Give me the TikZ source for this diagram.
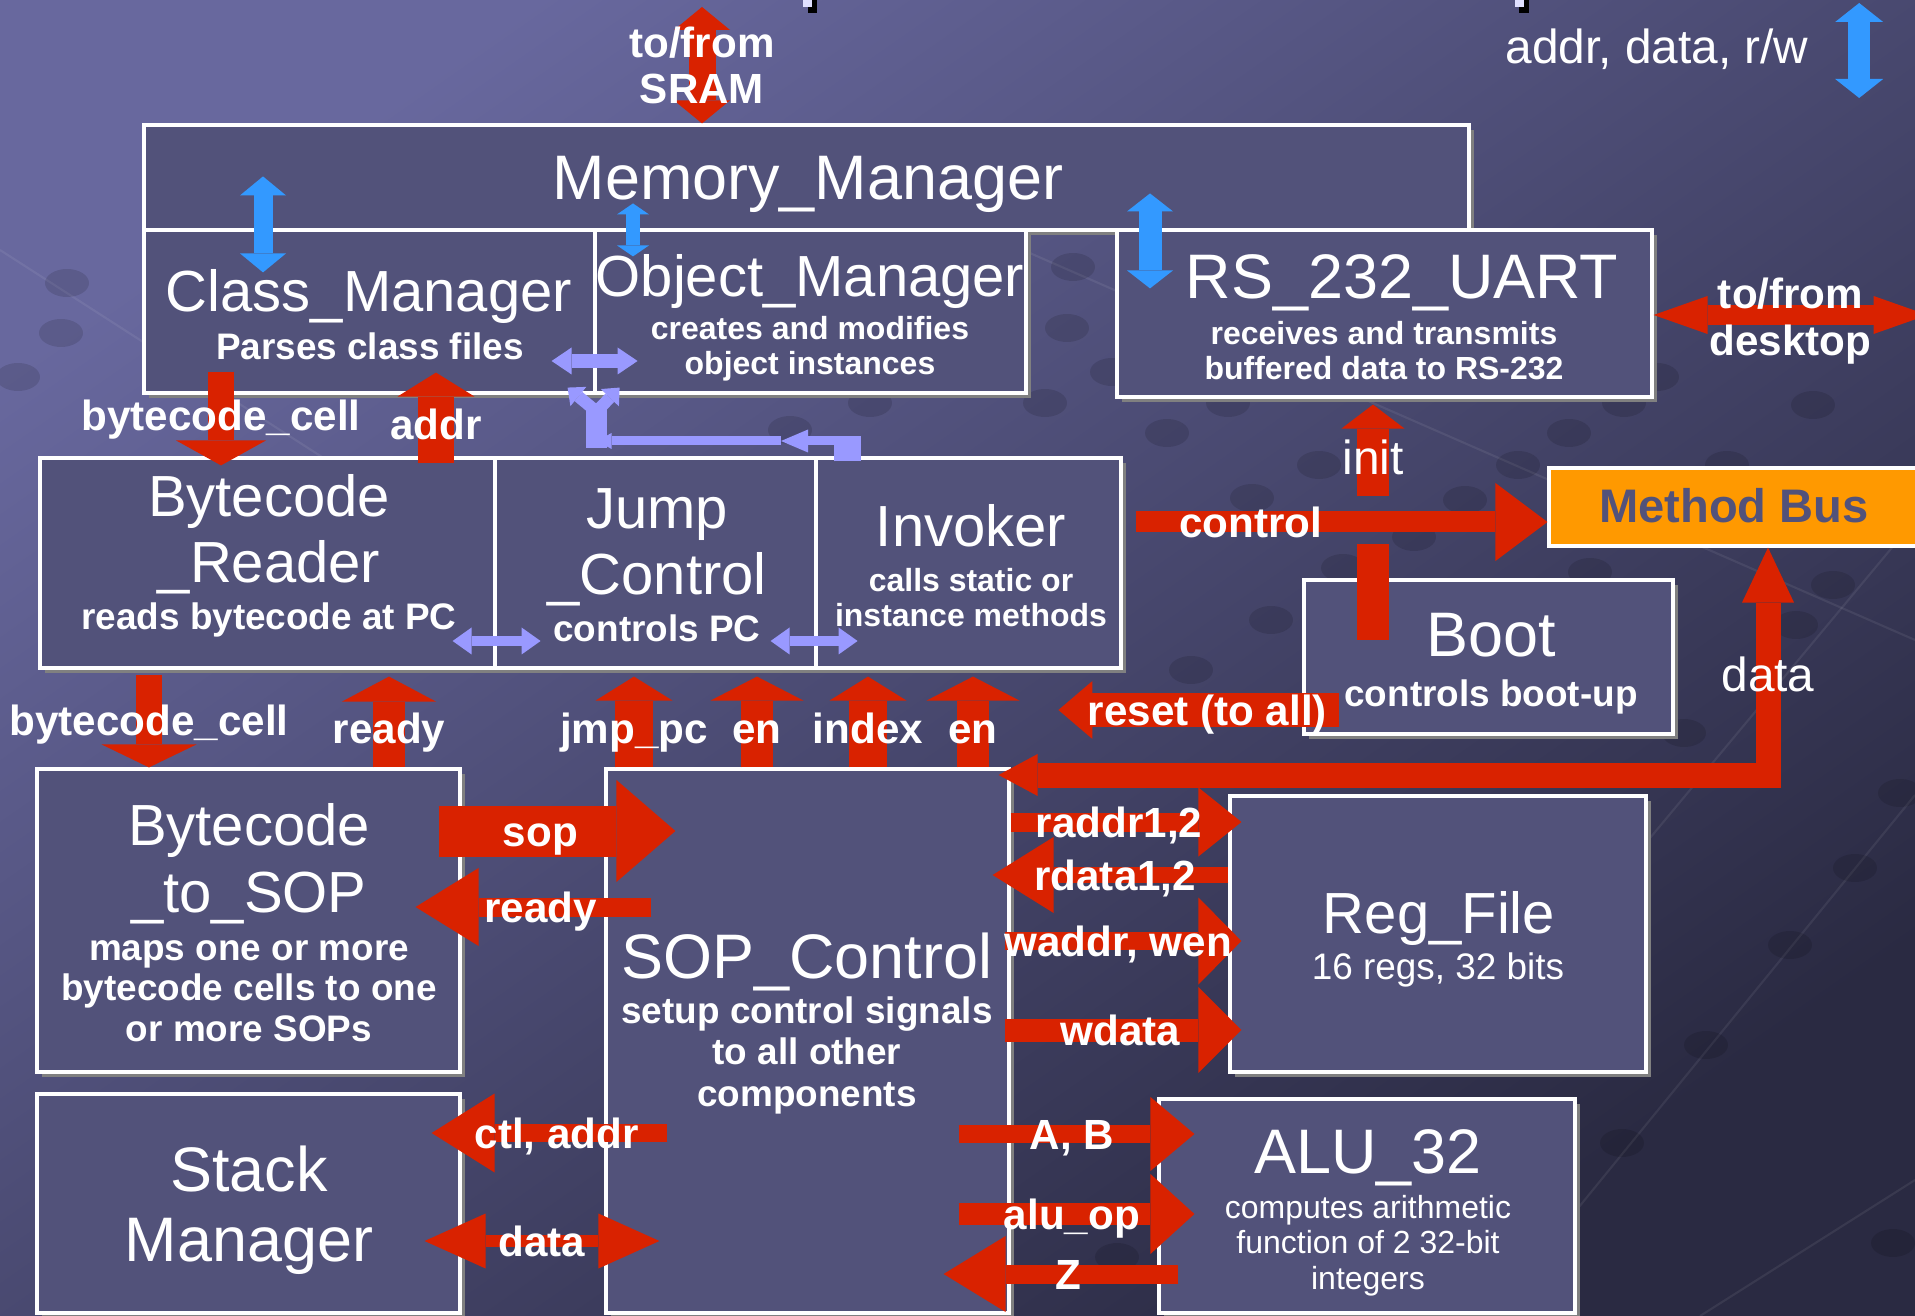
\documentclass[tikz,border=0pt]{standalone}
\usepackage{fontspec}
\setmainfont{Liberation Sans}
\usetikzlibrary{arrows.meta,shadows}

\definecolor{bgtop}{RGB}{104,104,158}
\definecolor{bgbot}{RGB}{42,42,66}
\definecolor{boxfill}{RGB}{82,82,122}
\definecolor{shadowgray}{RGB}{128,128,128}
\definecolor{sigred}{RGB}{217,34,0}
\definecolor{busblue}{RGB}{51,153,255}
\definecolor{linkpurple}{RGB}{153,153,255}
\definecolor{busorange}{RGB}{255,153,0}

\pgfdeclarelayer{back}
\pgfdeclarelayer{wires}
\pgfsetlayers{back,wires,main}

\tikzset{
	blk/.style={draw=white, line width=0.9pt, fill=boxfill, inner sep=0pt,
		drop shadow={shadow xshift=0.5mm, shadow yshift=-0.5mm, fill=shadowgray, opacity=1}},
	ttl/.style={text=white, inner sep=0pt, anchor=base, align=center,
		font={\fontsize{17.9}{19.9}\selectfont\lineskiplimit=-1cm}},
	ttlm/.style={ttl, font={\fontsize{#1}{18.8}\selectfont\lineskiplimit=-1cm}},
	ttlm/.default=16.5,
	dsc/.style={text=white, inner sep=0pt, anchor=base, align=center,
		font={\bfseries\fontsize{10.5}{#1}\selectfont\lineskiplimit=-1cm}},
	dsc/.default=10.1,
	dscs/.style={dsc, font={\bfseries\fontsize{9.1}{10.1}\selectfont\lineskiplimit=-1cm}},
	note/.style={text=white, inner sep=0pt, anchor=base, align=center,
		font={\fontsize{#1}{10.1}\selectfont\lineskiplimit=-1cm}},
	lbl/.style={text=white, inner sep=0pt, text height=8.6pt, text depth=0pt,
		font=\bfseries\fontsize{12}{14}\selectfont},
	lblr/.style={lbl, text height=9.7pt, font=\fontsize{13.6}{16}\selectfont},
	sig/.style n args={3}{draw=sigred, line width=#1,
		-{Triangle[width=#2, length=#3, line width=0pt]}},
	sigboth/.style n args={3}{draw=sigred, line width=#1,
		{Triangle[width=#2, length=#3, line width=0pt]}-{Triangle[width=#2, length=#3, line width=0pt]}},
	bus/.style n args={3}{draw=busblue, line width=#1,
		{Triangle[width=#2, length=#3, line width=0pt]}-{Triangle[width=#2, length=#3, line width=0pt]}},
	lnk/.style n args={3}{draw=linkpurple, line width=#1,
		{Triangle[width=#2, length=#3, line width=0pt]}-{Triangle[width=#2, length=#3, line width=0pt]}},
	lnkto/.style n args={3}{draw=linkpurple, line width=#1,
		-{Triangle[width=#2, length=#3, line width=0pt]}},
	ball/.style={fill=black, opacity=0.12},
	mesh/.style={draw=white, opacity=0.07, line width=0.6pt}
}

\begin{document}
\begin{tikzpicture}[x=0.1mm, y=-0.1mm]
\useasboundingbox (0,0) rectangle (1915,1316);

\begin{pgfonlayer}{back}
\shade[top color=bgtop, bottom color=bgbot, shading angle=35] (0,0) rectangle (1915,1316);
\draw[mesh] (1915,795) -- (1490,1316);
\draw[mesh] (1915,520) -- (1640,850);
\draw[mesh] (1915,1180) -- (1700,1316);
\draw[mesh] (1000,240) -- (1915,640);
\draw[mesh] (0,250) -- (420,520);
\foreach \x/\y in {1855/868, 1790/945, 1706/1045, 1622/1143, 1893/1243, 1117/1257,
	1833/585, 1796/625, 1465/500, 1518/465, 1414/537, 1343/568, 1590/572, 1727/465,
	1684/733, 1900/793, 1073/267, 1067/328, 1112/372, 1045/403, 1228/403, 1657/377,
	1624/403, 1813/405, 1569/433, 1167/433, 67/283, 61/333, 18/377, 790/430, 870/403,
	1252/498, 1319/465, 1191/670, 1271/620}
	\fill[ball] (\x,\y) ellipse (22 and 14);

% blocks
\node[blk, minimum width=132.5mm, minimum height=10.5mm] (memmgr) at (806.5,177.5) {};
\node[blk, minimum width=45.1mm, minimum height=16.3mm] (classmgr) at (369.5,311.5) {};
\node[blk, minimum width=43.1mm, minimum height=16.3mm] (objmgr) at (810.5,311.5) {};
\node[blk, minimum width=53.5mm, minimum height=16.7mm] (uart) at (1384.5,313.5) {};
\node[blk, minimum width=45.5mm, minimum height=21mm] (bcreader) at (267.5,563) {};
\node[blk, minimum width=32.1mm, minimum height=21mm] (jumpctl) at (655.5,563) {};
\node[blk, minimum width=30.5mm, minimum height=21mm] (invoker) at (968.5,563) {};
\node[draw=white, line width=0.9pt, fill=busorange, minimum width=38.1mm, minimum height=7.8mm] (methodbus) at (1739.5,507) {};
\node[blk, minimum width=36.9mm, minimum height=15.4mm] (boot) at (1488.5,657) {};
\node[blk, minimum width=42.3mm, minimum height=30.3mm] (bctosop) at (248.5,920.5) {};
\node[blk, minimum width=42.3mm, minimum height=21.9mm] (stackmgr) at (248.5,1203.5) {};
\node[blk, minimum width=40.3mm, minimum height=54.4mm] (sopctl) at (807.5,1041) {};
\node[blk, minimum width=41.6mm, minimum height=27.6mm] (regfile) at (1438,934) {};
\node[blk, minimum width=41.6mm, minimum height=21.4mm] (alu) at (1367,1206) {};
\end{pgfonlayer}

\begin{pgfonlayer}{wires}
% memory and uart side
\coordinate (sram) at (702,7);
\draw[sigboth={2.7mm}{5.6mm}{2.3mm}] (sram) -- (sram |- memmgr.north)
	node[lbl, pos=.305] (lsram1) {to/from}
	node[lbl, pos=.695] (lsram2) {SRAM};
\draw[bus={1.9mm}{4.6mm}{1.9mm}] ([yshift=5.2mm]classmgr.north -| 263,0) -- ([yshift=-4.4mm]classmgr.north -| 263,0);
\draw[bus={1.4mm}{3.2mm}{1.1mm}] ([yshift=2.5mm]objmgr.north -| 633,0) -- ([yshift=-2.8mm]objmgr.north -| 633,0);
\draw[bus={2.3mm}{4.6mm}{1.8mm}] ([yshift=3.5mm]uart.north -| 1150,0) -- ([yshift=-6mm]uart.north -| 1150,0);
\draw[sigboth={2mm}{3.8mm}{5.4mm}] (uart.east |- 0,315) -- ++(274,0)
	node[lbl, pos=.5, yshift=2.2mm] (ldesk1) {to/from}
	node[lbl, pos=.5, yshift=-2.5mm] (ldesk2) {desktop};

% lavender links
\draw[lnk={1.4mm}{2.7mm}{2mm}] ([xshift=-4.5mm]classmgr.east |- 0,361) -- ([xshift=4.1mm]classmgr.east |- 0,361);
\draw[lnk={1mm}{2.7mm}{1.9mm}] ([xshift=-4.4mm]bcreader.east |- 0,641) -- ([xshift=4.4mm]bcreader.east |- 0,641);
\draw[lnk={1mm}{2.7mm}{1.9mm}] ([xshift=-4.7mm]jumpctl.east |- 0,641) -- ([xshift=4mm]jumpctl.east |- 0,641);
\coordinate (fork) at ([yshift=-1.7mm]classmgr.south east);
\draw[linkpurple, line width=2.7mm] ([yshift=-0.5mm]invoker.north -| 847,0) -- (847,437);
\draw[lnkto={0.9mm}{2.3mm}{2.7mm}] (861,441) -- (781,441);
\draw[lnkto={0.9mm}{1.6mm}{1.5mm}] (781,441) -- (fork |- 0,441);
\draw[linkpurple, line width=2.1mm] (fork |- 0,448) -- ([yshift=0.9mm]fork);
\draw[lnkto={1.2mm}{2.5mm}{1.4mm}] (fork) -- ([xshift=-2.9mm,yshift=0.7mm]classmgr.south east);
\draw[lnkto={1.2mm}{2.5mm}{1.4mm}] (fork) -- ([xshift=2.3mm,yshift=0.7mm]classmgr.south east);

% fetch path
\draw[sig={2.6mm}{9mm}{2.5mm}] ([yshift=2.3mm]classmgr.south -| 221,0) -- ([yshift=-0.9mm]bcreader.north -| 221,0)
	node[lbl, pos=.47] (lbc1) {bytecode\_cell};
\draw[sig={3.6mm}{7.7mm}{2.4mm}] ([yshift=-0.7mm]bcreader.north -| 436,0) -- ([yshift=2.2mm]classmgr.south -| 436,0)
	node[lbl, pos=.43] (laddr) {addr};
\draw[sig={2.6mm}{9.5mm}{2.3mm}] ([yshift=-0.5mm]bcreader.south -| 149,0) -- (bctosop.north -| 149,0)
	node[lbl, pos=.49] (lbc2) {bytecode\_cell};
\draw[sig={3.2mm}{9.4mm}{2.5mm}] (bctosop.north -| 389,0) -- ([yshift=-0.7mm]bcreader.south -| 389,0)
	node[lbl, pos=.43] (lrdy1) {ready};

% sop_control upwards
\draw[sig={3.8mm}{7.7mm}{2.4mm}] (sopctl.north -| 634,0) -- ([yshift=-0.7mm]jumpctl.south -| 634,0)
	node[lbl, pos=.43] (ljmp) {jmp\_pc};
\draw[sig={3.2mm}{9.3mm}{2.4mm}] (sopctl.north -| 757,0) -- ([yshift=-0.7mm]jumpctl.south -| 757,0)
	node[lbl, pos=.43] (len1) {en};
\draw[sig={3.8mm}{7.7mm}{2.4mm}] (sopctl.north -| 868,0) -- ([yshift=-0.7mm]invoker.south -| 868,0)
	node[lbl, pos=.43] (lidx) {index};
\draw[sig={3.2mm}{9.3mm}{2.4mm}] (sopctl.north -| 973,0) -- ([yshift=-0.7mm]invoker.south -| 973,0)
	node[lbl, pos=.43] (len2) {en};

% method bus
\draw[sig={2.1mm}{7.8mm}{5.2mm}] ([xshift=1.3mm]invoker.east |- 0,522) -- (methodbus.west |- 0,522)
	node[lbl, pos=.28] (lcontrol) {control};
\draw[sigred, line width=3.2mm] ([yshift=3.4mm]boot.north -| 1373,0) -- ([yshift=-6.2mm]boot.north -| 1373,0);
\draw[sig={3.2mm}{6.3mm}{2.4mm}] ([yshift=8.2mm]boot.north -| 1373,0) -- ([yshift=-0.6mm]uart.south -| 1373,0)
	node[lblr, pos=.42] (linit) {init};
\draw[sig={3.4mm}{5.8mm}{3.4mm}] ([xshift=3.7mm]boot.west |- 0,710) -- ++(-281,0)
	node[lbl, pos=.47] (lrst) {reset (to all)};
\draw[draw=sigred, line width=2.5mm,
	{Triangle[width=4.2mm, length=3.9mm, line width=0pt]}-{Triangle[width=5.2mm, length=5.5mm, line width=0pt]}]
	([xshift=-1.2mm]sopctl.east |- 0,775) -| (methodbus.south -| 1768,0)
	node[lblr, pos=.72] (ldata1) {data};

% register file and alu
\draw[sig={1.9mm}{6.9mm}{4.3mm}] (sopctl.east |- 0,822) -- ([xshift=1.3mm]regfile.west |- 0,822)
	node[lbl, pos=.47] (lraddr) {raddr1,2};
\draw[sig={1.6mm}{7.6mm}{6.1mm}] (regfile.west |- 0,875) -- ([xshift=-1.8mm]sopctl.east |- 0,875)
	node[lbl, pos=.48] (lrdata) {rdata1,2};
\draw[sig={1.8mm}{8.7mm}{4.3mm}] ([xshift=-0.6mm]sopctl.east |- 0,941) -- ([xshift=1.3mm]regfile.west |- 0,941)
	node[lbl, pos=.48] (lwaddr) {waddr, wen};
\draw[sig={2.3mm}{8.6mm}{4.3mm}] ([xshift=-0.6mm]sopctl.east |- 0,1030) -- ([xshift=1.3mm]regfile.west |- 0,1030)
	node[lbl, pos=.49] (lwdata) {wdata};
\draw[sig={1.8mm}{7.4mm}{4.4mm}] ([xshift=-5.2mm]sopctl.east |- 0,1134) -- ([xshift=3.7mm]alu.west |- 0,1134)
	node[lbl, pos=.48] (lab) {A, B};
\draw[sig={2.2mm}{8mm}{4.4mm}] ([xshift=-5.2mm]sopctl.east |- 0,1214) -- ([xshift=3.7mm]alu.west |- 0,1214)
	node[lbl, pos=.48] (laluop) {alu\_op};
\draw[sig={1.9mm}{7.6mm}{6.2mm}] ([xshift=2.1mm]alu.west |- 0,1274) -- ([xshift=-6.7mm]sopctl.east |- 0,1274)
	node[lbl, pos=.47] (lz) {Z};

% bytecode_to_sop and stack
\draw[sig={5.1mm}{10.2mm}{5.9mm}] ([xshift=-2.3mm]bctosop.east |- 0,831) -- ([xshift=7.1mm]sopctl.west |- 0,831)
	node[lbl, pos=.43] (lsop) {sop};
\draw[sig={1.9mm}{7.8mm}{6.3mm}] ([xshift=4.7mm]sopctl.west |- 0,907) -- ([xshift=-4.6mm]bctosop.east |- 0,907)
	node[lbl, pos=.47] (lrdy2) {ready};
\draw[sig={1.8mm}{7.9mm}{6.3mm}] ([xshift=6.3mm]sopctl.west |- 0,1133) -- ([xshift=-3mm]stackmgr.east |- 0,1133)
	node[lbl, pos=.47] (lctladdr) {ctl, addr};
\draw[sigboth={1.2mm}{5.5mm}{6.1mm}] ([xshift=-3.7mm]stackmgr.east |- 0,1241) -- ([xshift=5.5mm]sopctl.west |- 0,1241)
	node[lbl, pos=.5] (ldata2) {data};
\end{pgfonlayer}

% legend
\node[lblr] (legend) at (1657,46) {addr, data, r/w};
\draw[bus={2.2mm}{4.8mm}{1.9mm}] ([xshift=5mm,yshift=4.3mm]legend.east) -- ([xshift=5mm,yshift=-5.2mm]legend.east);

% block texts (multi-line ones sit on their last baseline)
\node[ttl] (tmem) at (808,200) {Memory\_Manager};
\node[ttlm] (tclass) at (369,312) {Class\_Manager};
\node[dsc] (dclass) at (370,360) {Parses class files};
\node[ttlm] (tobj) at (810,297) {Object\_Manager};
\node[dscs] (dobj) at (810,375) {creates and modifies\\object instances};
\node[ttl] (tuart) at (1402,299) {RS\_232\_UART};
\node[dscs] (duart) at (1384,380) {receives and transmits\\buffered data to RS-232};
\node[ttlm] (tbcr) at (269,583) {Bytecode\\\_Reader};
\node[dsc] (dbcr) at (269,630) {reads bytecode at PC};
\node[ttlm] (tjmp) at (657,595) {Jump\\\_Control};
\node[dsc] (djmp) at (657,642) {controls PC};
\node[ttlm] (tinv) at (971,547) {Invoker};
\node[dscs] (dinv) at (971,627) {calls static or\\instance methods};
\node[anchor=base, inner sep=0pt, text=boxfill, font=\bfseries\fontsize{13.4}{15}\selectfont] (tbus) at (1734,523) {Method Bus};
\node[ttl] (tboot) at (1491,657) {Boot};
\node[dsc] (dboot) at (1491,706) {controls boot-up};
\node[ttlm] (tb2s) at (249,912) {Bytecode\\\_to\_SOP};
\node[dsc=11.5] (db2s) at (249,1041) {maps one or more\\bytecode cells to one\\or more SOPs};
\node[ttl] (tstk) at (249,1261) {Stack\\Manager};
\node[ttl] (tsop) at (807,978) {SOP\_Control};
\node[dsc=11.7] (dsop) at (807,1106) {setup control signals\\to all other\\components};
\node[ttlm] (treg) at (1439,933) {Reg\_File};
\node[note=10.5] (dreg) at (1438,979) {16 regs, 32 bits};
\node[ttl] (talu) at (1368,1173) {ALU\_32};
\node[note=9.1] (dalu) at (1368,1289) {computes arithmetic\\function of 2 32-bit\\integers};

% clipped marks at the top edge
\fill[black] (808,0) rectangle (817,13);
\fill[linkpurple!30!white] (803,0) rectangle (812,7);
\fill[black] (1519,0) rectangle (1529,13);
\fill[linkpurple!30!white] (1515,0) rectangle (1524,7);
\end{tikzpicture}
\end{document}
